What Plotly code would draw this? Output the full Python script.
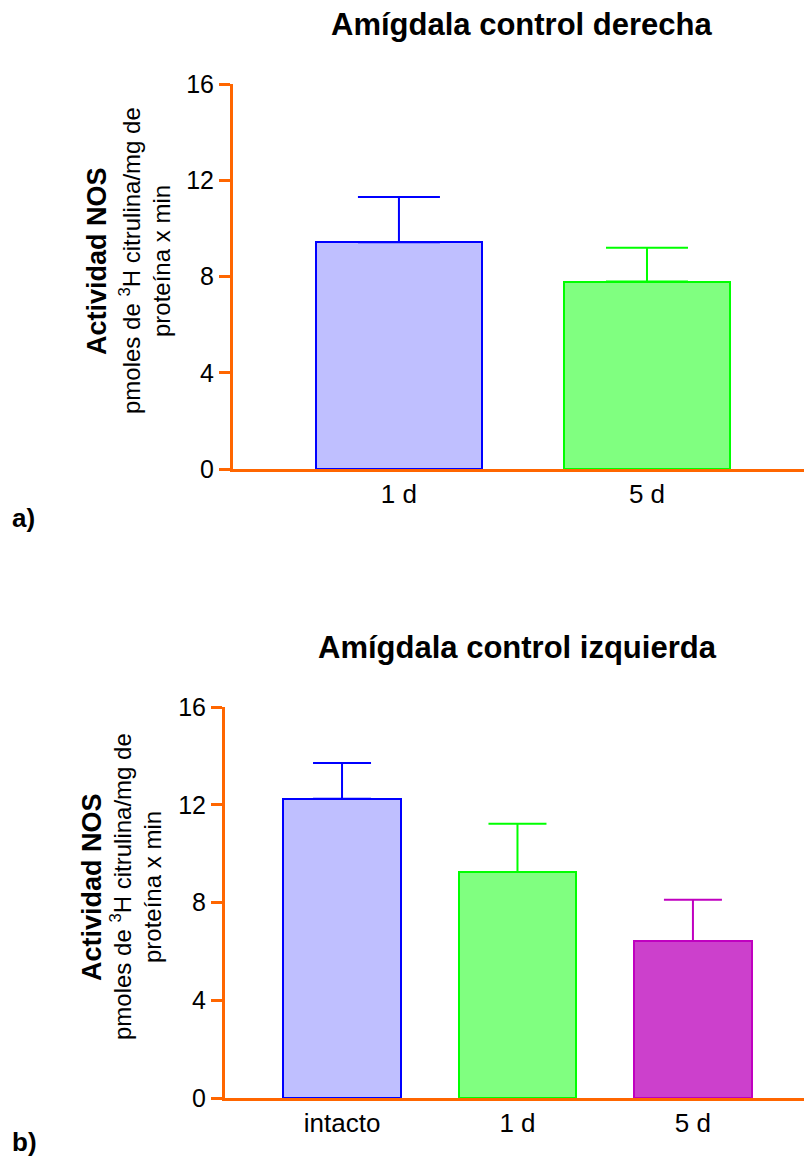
import plotly.graph_objects as go

# ---- data ----
cats_a = ["1 d", "5 d"]
vals_a = [9.42, 7.79]
errtop_a = [11.3, 9.19]
cats_b = ["intacto", "1 d", "5 d"]
vals_b = [12.25, 9.25, 6.42]
errtop_b = [13.71, 11.22, 8.11]
yticks = [0, 4, 8, 12, 16]

fills = ["#BFBFFF", "#80FF80", "#CC40CC"]
lines = ["#0000FF", "#00FF00", "#C000C0"]

W, H = 804, 1166
ORANGE = "#FF6600"
FONT = "Liberation Sans, Arial, sans-serif"

fig = go.Figure()


def add_bars(cats, vals, tops, xa, ya, capw):
    for i, (c, v, t) in enumerate(zip(cats, vals, tops)):
        fig.add_trace(go.Bar(
            x=[i], y=[v], width=0.669, name=c,
            marker=dict(color=fills[i], line=dict(color=lines[i], width=2)),
            error_y=dict(type="data", symmetric=False, array=[t - v], arrayminus=[0],
                         color=lines[i], thickness=2, width=capw),
            xaxis=xa, yaxis=ya, showlegend=False, hoverinfo="skip"))


add_bars(cats_a, vals_a, errtop_a, "x", "y", 41)
add_bars(cats_b, vals_b, errtop_b, "x2", "y2", 29)


def px_x(p):
    return p / W


def px_y(p):
    return 1 - p / H


axis_common = dict(showgrid=False, zeroline=False, showline=True, linecolor=ORANGE, linewidth=3)
xfont = dict(family=FONT, size=26, color="black")
yfont = dict(family=FONT, size=25, color="black")

fig.update_layout(
    width=W, height=H, margin=dict(l=0, r=0, t=0, b=0, autoexpand=False),
    paper_bgcolor="white", plot_bgcolor="white", bargap=0,
    xaxis=dict(domain=[px_x(233), 1], anchor="y", range=[-0.669, 1.633],
               tickvals=list(range(len(cats_a))), ticktext=cats_a, ticks="",
               tickfont=xfont, **axis_common),
    yaxis=dict(domain=[px_y(469), px_y(84)], anchor="x", range=[0, 16], tickvals=yticks,
               ticks="outside", ticklen=11, tickwidth=3, tickcolor=ORANGE,
               tickfont=yfont, **axis_common),
    xaxis2=dict(domain=[px_x(225), 1], anchor="y2", range=[-0.667, 2.633],
                tickvals=list(range(len(cats_b))), ticktext=cats_b, ticks="",
                tickfont=xfont, **axis_common),
    yaxis2=dict(domain=[px_y(1098), px_y(707)], anchor="x2", range=[0, 16], tickvals=yticks,
                ticks="outside", ticklen=11, tickwidth=3, tickcolor=ORANGE,
                tickfont=yfont, **axis_common),
)

ann = []


def txt(text, x, y, size, bold=False, angle=0, xanchor="center"):
    ann.append(dict(text=f"<b>{text}</b>" if bold else text, x=px_x(x), y=px_y(y),
                    xref="paper", yref="paper", showarrow=False, textangle=angle,
                    xanchor=xanchor, yanchor="middle",
                    font=dict(family=FONT, size=size, color="black")))


txt("Amígdala control derecha", 521, 24, 31, bold=True)
txt("Amígdala control izquierda", 517, 647, 31, bold=True)
for cy, (x1, x2, x3) in [(261, (97, 130, 162)), (887, (92, 121, 152))]:
    txt("Actividad NOS", x1, cy, 27, bold=True, angle=-90)
    txt("pmoles de <sup>3</sup>H citrulina/mg de", x2, cy, 24, angle=-90)
    txt("proteína x min", x3, cy, 24, angle=-90)
txt("a)", 10, 518, 26, bold=True, xanchor="left")
txt("b)", 10, 1142, 26, bold=True, xanchor="left")
fig.update_layout(annotations=ann)

fig.write_html("out.html", config={"displayModeBar": False},
               post_script="document.body.style.margin='0';")
